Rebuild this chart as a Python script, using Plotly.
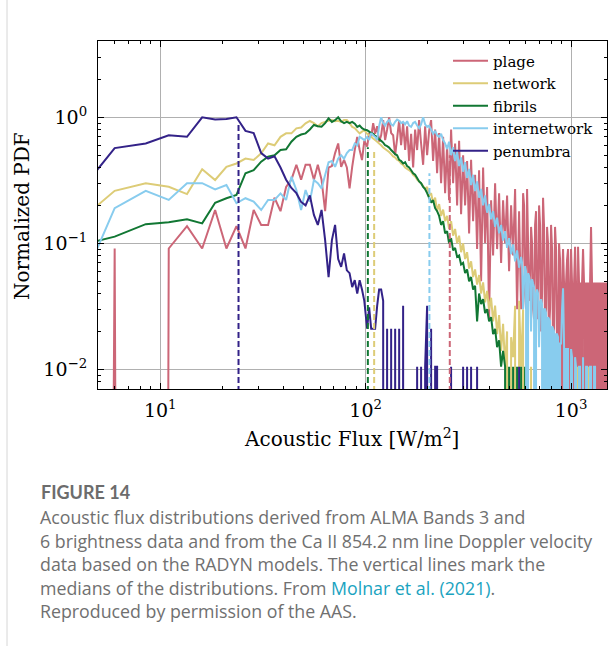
import plotly.graph_objects as go

# ---------------- data ----------------
# bin centres, low-flux part (W/m^2)
X_LOW = [3.5, 6, 8.5, 11, 13.5, 16, 18.5, 21, 23.5, 26, 28.5, 31, 33.5, 36, 38.5,
         41, 43.5, 46, 48.5, 51, 53.5, 56, 58.5, 61, 63.5, 66, 68.5, 71, 73.5, 76,
         78.5, 81, 83.5, 86, 88.5, 91, 93.5, 96, 98.5]
# sampled bin centres, high-flux part (W/m^2)
X_HIGH = [101.7, 104, 106.4, 108.8, 111.2, 113.8, 116.3, 119, 121.7, 124.4,
          127.2, 130.1, 133.1, 136.1, 139.2, 142.3, 145.6, 148.8, 152.2, 155.7,
          159.2, 162.8, 166.5, 170.3, 174.1, 178.1, 182.1, 186.2, 190.5, 194.8,
          199.2, 203.7, 208.3, 213, 217.9, 222.8, 227.9, 233, 238.3, 243.7,
          249.2, 254.8, 260.6, 266.6, 272.6, 278.8, 285.1, 291.5, 298.2, 304.9,
          311.8, 318.9, 326.1, 333.5, 341.1, 348.8, 356.7, 364.8, 373.1, 381.5,
          390.2, 399, 408.1, 417.3, 426.8, 436.5, 446.4, 456.5, 466.8, 477.4,
          488.2, 499.3, 510.6, 522.2, 534, 546.1, 558.5, 571.1, 584.1, 597.3,
          610.8, 624.7, 638.8, 653.3, 668.1, 683.2, 698.7, 714.5, 730.7, 747.3,
          764.2, 781.5, 799.2, 817.3, 835.8, 854.8, 874.1, 893.9, 914.2, 934.9,
          956.1, 977.8, 1000, 1022.6, 1045.9, 1069.5, 1093.7, 1118.5, 1143.9, 1169.8,
          1196.3, 1223.4, 1251.1, 1279.5, 1308.5, 1338.1, 1368.5, 1399.5, 1431.2, 1463.7,
          1496.8]
# extra bin centres in the crowded tail (between the X_HIGH samples)
X_TAIL = [577.6, 590.6, 603.9, 617.8, 631.7, 645.9, 660.7, 675.6, 690.9, 706.6,
          722.6, 738.9, 755.7, 772.9, 790.3, 808.2, 826.6, 845.3, 864.4, 884.1,
          904.0, 924.5, 945.5, 966.9, 988.8, 1011.3, 1034.2, 1057.6, 1081.6, 1106.0,
          1131.0, 1156.8, 1183.0, 1209.7, 1237.4, 1265.4, 1293.9, 1323.3, 1353.2, 1383.8,
          1415.3, 1447.3, 1480.2]

PLAGE_LOW = [0, 0.091, 0, 0.091, 0.137, 0.091, 0.184, 0.091, 0.137, 0.091, 0.184, 0.14, 0.14,
             0.23, 0.18, 0.28, 0.32, 0.42, 0.32, 0.42, 0.42, 0.32, 0.42, 0.32, 0.18, 0.40, 0.41,
             0.52, 0.62, 0.405, 0.46, 0.40, 0.273, 0.405, 0.55, 0.70, 0.55, 0.458, 0.65]
PLAGE_HIGH = [0.585, 0.75, 0.70, 0.90, 0.74, 0.85, 0.64, 0.72, 0.95, 0.66,
              0.80, 1.0, 0.75, 0.72, 0.50, 0.68, 0.95, 0.60, 0.90, 0.55,
              0.85, 0.45, 0.74, 0.40, 0.80, 0.55, 0.95, 0.62, 0.42, 0.85,
              0.50, 0.78, 0.95, 0.45, 0.80, 0.36, 0.75, 0.30, 0.70, 0.25,
              0.60, 0.22, 0.80, 0.30, 0.62, 0.20, 0.65, 0.17, 0.50, 0.20,
              0.45, 0.12, 0.46, 0.15, 0.35, 0.09, 0.38, 0.05, 0.40, 0.10,
              0.28, 0.025, 0.22, 0.08, 0.30, 0.09, 0.25, 0.07, 0.22, 0.10,
              0.24, 0.06, 0.20, 0.08, 0.27, 0.03, 0.18, 0.03, 0.25, 0.04,
              0.27, 0.035, 0.135, 0.03, 0.14, 0.025, 0.20, 0.02, 0.23, 0.02,
              0.135, 0.02, 0.14, 0.015, 0.135, 0.015, 0.10, 0, 0.09, 0,
              0.074, 0, 0.09, 0, 0.094, 0, 0.048, 0, 0.09, 0,
              0.048, 0, 0.135, 0, 0.048, 0, 0.048, 0, 0.048, 0, 0.048]
PLAGE_TAIL = [0.05, 0.20, 0.03, 0.10, 0.04, 0.10, 0.025, 0.18, 0.03, 0.14,
              0.04, 0.135, 0.02, 0.10, 0.03, 0.09, 0.02, 0.09, 0.015, 0.074,
              0.048, 0.048, 0.048, 0.09, 0.048, 0.048, 0.048, 0.048, 0.094, 0.048,
              0.048, 0.048, 0.048, 0.048, 0.048, 0.048, 0.048, 0.048, 0.048, 0.048,
              0.048, 0.048, 0.048]

NETWORK_LOW = [0.124, 0.261, 0.30, 0.281, 0.246, 0.387, 0.318, 0.405, 0.43, 0.47, 0.458,
               0.518, 0.62, 0.60, 0.70, 0.746, 0.746, 0.818, 0.83, 0.896, 0.935, 0.90, 0.85,
               0.90, 0.92, 0.94, 0.95, 0.93, 0.94, 0.92, 0.95, 0.95, 0.90, 0.84, 0.82, 0.78,
               0.746, 0.77, 0.79]
NETWORK_HIGH = [0.74, 0.72, 0.70, 0.68, 0.66, 0.64, 0.62, 0.60, 0.575, 0.56,
                0.545, 0.53, 0.51, 0.49, 0.48, 0.46, 0.45, 0.43, 0.42, 0.40,
                0.39, 0.38, 0.37, 0.35, 0.34, 0.32, 0.31, 0.30, 0.285, 0.27,
                0.28, 0.24, 0.25, 0.21, 0.23, 0.18, 0.205, 0.165, 0.185, 0.15,
                0.165, 0.13, 0.15, 0.115, 0.13, 0.10, 0.115, 0.085, 0.10, 0.075,
                0.085, 0.063, 0.072, 0.054, 0.062, 0.047, 0.056, 0.04, 0.049, 0.034,
                0.042, 0.03, 0.037, 0.024, 0.032, 0.019, 0.027, 0.014, 0.023, 0.0105,
                0.02, 0, 0.018, 0.0125, 0.032, 0, 0.035, 0.0105, 0.03, 0,
                0.035, 0, 0.0105, 0, 0, 0, 0, 0, 0, 0,
                0, 0, 0, 0, 0, 0, 0, 0, 0, 0,
                0.0105, 0, 0.0105, 0, 0, 0.0105, 0, 0, 0.0105, 0,
                0, 0.0105, 0, 0, 0.0105, 0]

FIBRILS_LOW = [0.091, 0.113, 0.142, 0.147, 0.155, 0.144, 0.21, 0.228, 0.242, 0.36, 0.38,
               0.445, 0.487, 0.50, 0.55, 0.557, 0.64, 0.70, 0.73, 0.746, 0.80, 0.87, 0.85,
               0.842, 0.90, 0.98, 0.92, 0.95, 1.0, 0.93, 0.90, 0.92, 0.90, 0.92, 0.89, 0.84,
               0.86, 0.82, 0.80]
FIBRILS_HIGH = [0.79, 0.77, 0.75, 0.74, 0.71, 0.70, 0.67, 0.65, 0.63, 0.60,
                0.59, 0.575, 0.55, 0.53, 0.51, 0.50, 0.46, 0.45, 0.43, 0.44,
                0.41, 0.40, 0.38, 0.36, 0.35, 0.33, 0.31, 0.30, 0.28, 0.27,
                0.25, 0.23, 0.21, 0.22, 0.19, 0.18, 0.165, 0.14, 0.15, 0.12,
                0.125, 0.10, 0.11, 0.088, 0.092, 0.078, 0.08, 0.068, 0.07, 0.058,
                0.062, 0.05, 0.054, 0.043, 0.046, 0.024, 0.04, 0.033, 0.036, 0.028,
                0.03, 0.024, 0.026, 0.019, 0.021, 0.015, 0.017, 0.0105, 0.014, 0.0105,
                0, 0.0105, 0, 0.0105, 0, 0.0105, 0, 0.0105, 0, 0.0105, 0]

INTERNETWORK_LOW = [0.025, 0.19, 0.261, 0.221, 0.30, 0.30, 0.268, 0.29, 0.208, 0.228, 0.214,
                    0.184, 0.221, 0.221, 0.249, 0.221, 0.338, 0.265, 0.184, 0.265, 0.214, 0.318,
                    0.30, 0.273, 0.348, 0.44, 0.45, 0.405, 0.47, 0.50, 0.47, 0.52, 0.55, 0.55,
                    0.62, 0.60, 0.70, 0.68, 0.66]
INTERNETWORK_HIGH = [0.70, 0.66, 0.75, 0.72, 0.70, 0.66, 0.85, 1.0, 0.90, 0.86,
                     0.92, 0.95, 0.88, 0.86, 0.92, 0.96, 0.94, 0.90, 0.92, 0.88,
                     0.93, 0.86, 0.84, 0.90, 0.92, 0.86, 0.82, 0.88, 1.0, 0.88,
                     0.84, 0.86, 0.80, 0.74, 0.78, 0.72, 0.70, 0.74, 0.66, 0.62,
                     0.56, 0.64, 0.50, 0.58, 0.45, 0.53, 0.41, 0.48, 0.37, 0.44,
                     0.33, 0.39, 0.29, 0.35, 0.26, 0.31, 0.23, 0.27, 0.20, 0.24,
                     0.175, 0.205, 0.155, 0.18, 0.135, 0.16, 0.12, 0.14, 0.105, 0.125,
                     0.092, 0.11, 0.082, 0.098, 0.072, 0.088, 0.064, 0.078, 0.03, 0.066,
                     0, 0.055, 0.02, 0.048, 0, 0.043, 0.015, 0.036, 0, 0.03,
                     0, 0.025, 0, 0.021, 0, 0.019, 0, 0.016, 0.044, 0,
                     0.0145, 0, 0.0145, 0, 0.0125, 0, 0.0105, 0, 0.0125, 0,
                     0.0105, 0, 0.0105, 0, 0.0105, 0]
INTERNETWORK_TAIL = [0.07, 0.05, 0.06, 0.058, 0.05, 0.052, 0.045, 0.04, 0.04, 0.034,
                     0.033, 0.03, 0.028, 0.026, 0.024, 0.022, 0.02, 0.019, 0.018, 0.016,
                     0.03, 0.016, 0.0145, 0.0145, 0, 0.0125, 0, 0.0105, 0, 0.0105,
                     0, 0, 0.0105, 0, 0.0105, 0, 0.0105, 0]

PENUMBRA_LOW = [0.19, 0.57, 0.62, 0.72, 0.70, 1.0, 0.96, 0.97, 1.0, 0.78, 0.75, 0.52, 0.47,
                0.49, 0.40, 0.32, 0.275, 0.25, 0.213, 0.20, 0.24, 0.168, 0.14, 0.184, 0.106,
                0.054, 0.106, 0.14, 0.075, 0.065, 0.083, 0.061, 0.058, 0.045, 0.051, 0.040,
                0.051, 0.043, 0.035]
PENUMBRA_HIGH = [0.021, 0.031, 0.021, 0.021, 0.021, 0.032, 0.043, 0.043, 0.035, 0,
                 0.021, 0, 0.021, 0, 0.021, 0, 0.021, 0, 0.032, 0,
                 0, 0, 0, 0, 0, 0.0105, 0, 0.0105, 0, 0.0105,
                 0.032, 0, 0.021, 0, 0.0105, 0.0105, 0, 0, 0, 0,
                 0, 0, 0.0105, 0, 0, 0, 0, 0, 0.0105, 0,
                 0.0105, 0, 0.0105, 0, 0, 0.0105, 0, 0, 0, 0,
                 0, 0, 0, 0, 0, 0, 0, 0, 0, 0,
                 0, 0, 0, 0, 0, 0, 0.0105, 0]

SERIES = ["plage", "network", "fibrils", "internetwork", "penumbra"]
MEDIANS = [256.8, 110, 102.5, 204.4, 24.05]          # W/m^2
MEDIAN_PDF = [0.5, 0.56, 0.58, 0.36, 0.885]          # top of the dashed median lines

COLORS = ["#CC6677", "#DDCC77", "#117733", "#88CCEE", "#332288"]
LOWS = [PLAGE_LOW, NETWORK_LOW, FIBRILS_LOW, INTERNETWORK_LOW, PENUMBRA_LOW]
HIGHS = [PLAGE_HIGH, NETWORK_HIGH, FIBRILS_HIGH, INTERNETWORK_HIGH, PENUMBRA_HIGH]
TAILS = [PLAGE_TAIL, [], [], INTERNETWORK_TAIL, []]

FLOOR = 1e-60   # empty bins drawn straight down out of the log axis (as matplotlib clips)

SERIF = "DejaVu Serif"
SANS = "Lato"
BODY = "Open Sans"

fig = go.Figure()
for name, col, lo, hi, tail in zip(SERIES, COLORS, LOWS, HIGHS, TAILS):
    pts = list(zip(X_LOW + X_HIGH[:len(hi)], lo + hi)) + list(zip(X_TAIL[:len(tail)], tail))
    pts.sort(key=lambda p: p[0])
    xs = [p[0] for p in pts]
    ys = [p[1] if p[1] > 0 else FLOOR for p in pts]
    fig.add_trace(go.Scatter(x=xs, y=ys, mode="lines", name=name,
                             line=dict(color=col, width=2, simplify=False)))

for name, col, m, top in zip(SERIES, COLORS, MEDIANS, MEDIAN_PDF):
    fig.add_trace(go.Scatter(x=[m, m], y=[FLOOR, top], mode="lines", showlegend=False,
                             line=dict(color=col, width=2, dash="6px,3px")))

minor_x = [d * 10 ** e for e in (0, 1, 2, 3) for d in range(2, 10)]
minor_y = [d * 10.0 ** e for e in (-3, -2, -1, 0) for d in range(2, 10)]

axis_common = dict(
    type="log", ticks="inside", ticklen=6, tickwidth=1, tickcolor="black",
    showline=True, linecolor="black", linewidth=1.2, mirror="allticks",
    showgrid=True, gridcolor="#b0b0b0", gridwidth=1, zeroline=False,
    tickfont=dict(family=SERIF, size=19, color="black"),
)

fig.update_layout(
    width=614, height=646,
    margin=dict(l=98, r=7, t=41, b=257),
    paper_bgcolor="white", plot_bgcolor="white",
    showlegend=True,
    legend=dict(x=(448 - 98) / 509, y=(389 - 44.5) / 348, xanchor="left", yanchor="top",
                bgcolor="rgba(0,0,0,0)", borderwidth=0,
                font=dict(family=SERIF, size=15, color="black"), itemwidth=35),
    xaxis=dict(range=[0.697, 3.175], tickmode="array", tickvals=[10, 100, 1000],
               ticktext=["10<sup>1</sup>", "10<sup>2</sup>", "10<sup>3</sup>"],
               ticklabelstandoff=4,
               minor=dict(tickmode="array", tickvals=minor_x, ticks="inside", ticklen=3,
                          tickcolor="black", showgrid=False),
               **axis_common),
    yaxis=dict(range=[-2.156, 0.6056], tickmode="array", tickvals=[0.01, 0.1, 1],
               ticktext=["10<sup>\u22122</sup>", "10<sup>\u22121</sup>", "10<sup>0</sup>"],
               ticklabelstandoff=6,
               minor=dict(tickmode="array", tickvals=minor_y, ticks="inside", ticklen=3,
                          tickcolor="black", showgrid=False),
               **axis_common),
)

def px_x(px):
    return (px - 98) / 509

def px_y(py):
    return (389 - py) / 348

ann = []
ann.append(dict(text="Acoustic Flux [W/m<sup>2</sup>]", x=px_x(351), y=px_y(438),
                xref="paper", yref="paper", showarrow=False, xanchor="center", yanchor="middle",
                font=dict(family=SERIF, size=20, color="black")))
ann.append(dict(text="Normalized PDF", x=px_x(22), y=px_y(216), textangle=-90,
                xref="paper", yref="paper", showarrow=False, xanchor="center", yanchor="middle",
                font=dict(family=SERIF, size=20, color="black")))
ann.append(dict(text="<b>FIGURE 14</b>", x=px_x(39), y=px_y(491.5),
                xref="paper", yref="paper", showarrow=False, xanchor="left", yanchor="middle",
                font=dict(family=SANS, size=18, color="#6c6c6c")))
CAPTION = [
    "Acoustic flux distributions derived from ALMA Bands 3 and",
    "6 brightness data and from the Ca II 854.2 nm line Doppler velocity",
    "data based on the RADYN models. The vertical lines mark the",
    "medians of the distributions. From <span style='color:#1aa3bf'>Molnar et al. (2021)</span>.",
    "Reproduced by permission of the AAS.",
]
for i, line in enumerate(CAPTION):
    ann.append(dict(text=line, x=px_x(38), y=px_y(517 + 23.5 * i),
                    xref="paper", yref="paper", showarrow=False, xanchor="left", yanchor="middle",
                    font=dict(family=BODY, size=17.8, color="#707070")))
fig.update_layout(annotations=ann)

fig.add_shape(type="line", xref="paper", yref="paper",
              x0=px_x(7), x1=px_x(7), y0=px_y(646), y1=px_y(0),
              line=dict(color="#d6d6d6", width=1))

fig.write_html("out.html")
